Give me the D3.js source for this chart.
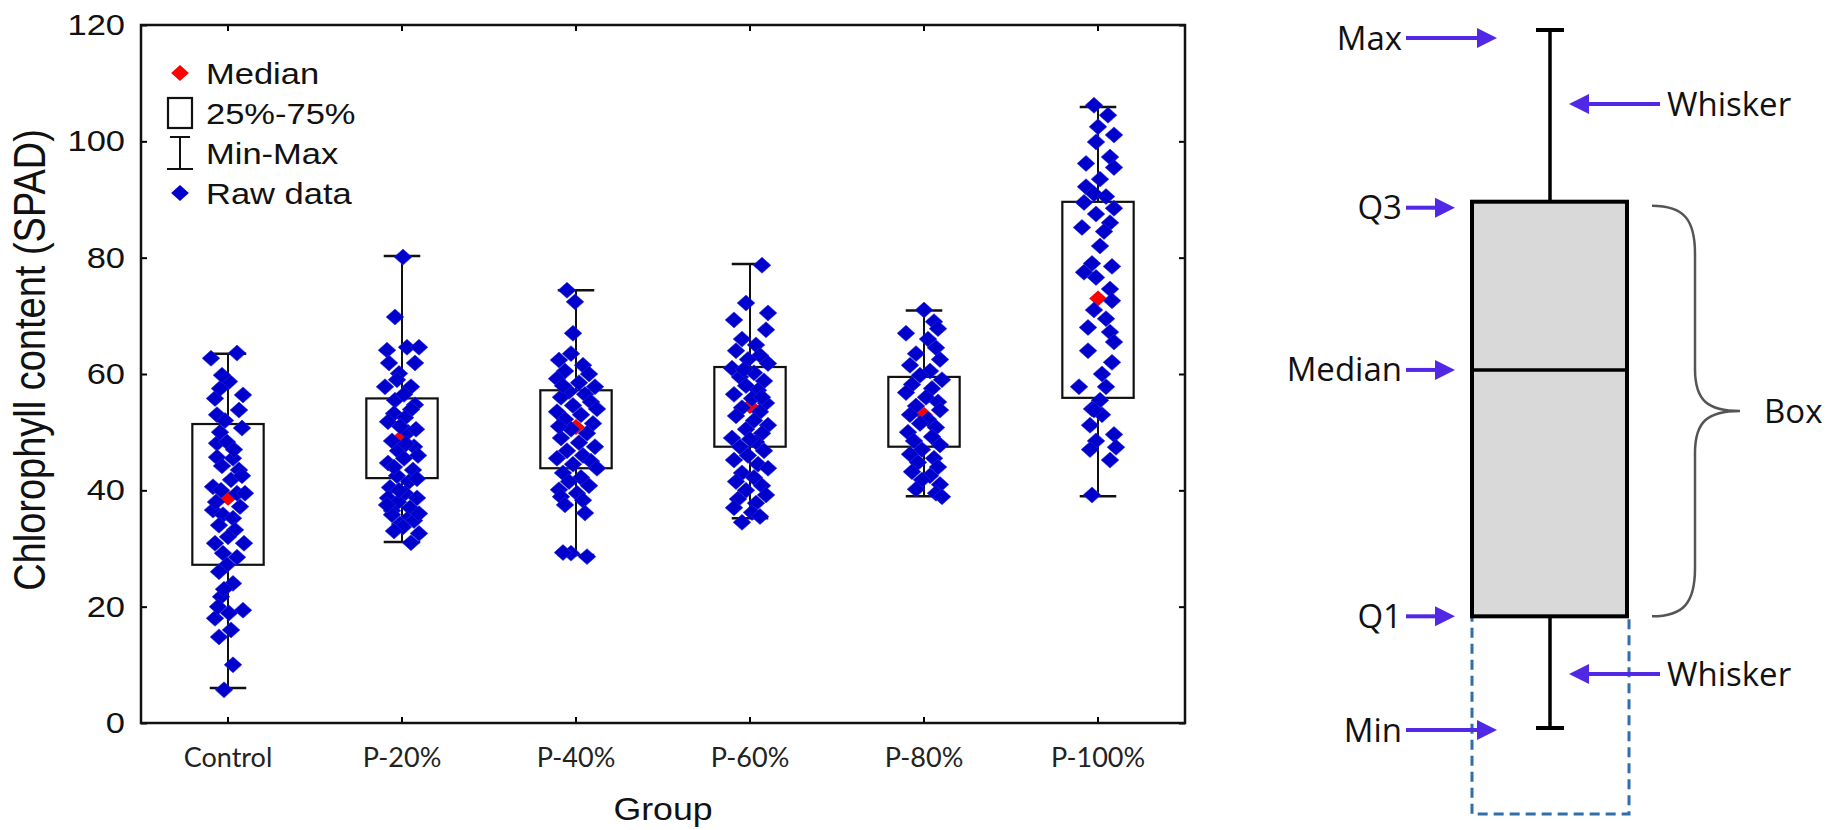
<!DOCTYPE html>
<html>
<head>
<meta charset="utf-8">
<script src="https://cdn.jsdelivr.net/npm/d3@7"></script>
<style>
  html, body { margin: 0; padding: 0; background: #ffffff; }
  svg { display: block; }
</style>
</head>
<body>
<svg id="chart" width="1839" height="830"></svg>
<script>
// ---------------- DATA ----------------
const categories = ["Control", "P-20%", "P-40%", "P-60%", "P-80%", "P-100%"];
const yTickValues = [0, 20, 40, 60, 80, 100, 120];

const mins    = [6.0, 31.1, 28.9, 35.2, 39.0, 39.0];
const q1s     = [27.2, 42.1, 43.8, 47.5, 47.5, 55.9];
const medians = [38.7, 49.2, 50.9, 54.5, 53.0, 73.0];
const q3s     = [51.4, 55.8, 57.2, 61.2, 59.5, 89.6];
const maxs    = [63.5, 80.3, 74.4, 78.9, 70.9, 105.9];

// raw data values per group
const rawControl = [62.7, 63.6, 58.7, 55.8, 56.4, 53.0, 53.8, 50.7, 48.1, 48.3, 45.7, 45.5, 43.5, 40.6, 40.0, 39.5, 39.5, 36.6, 35.8, 35.2, 33.2, 30.9, 30.9, 29.2, 27.2, 24.0, 21.7, 19.4, 18.0, 18.9, 14.8, 10.0, 5.7, 57.5, 52.0, 47.0, 44.2, 41.8, 38.0, 37.2, 34.0, 32.0, 28.5, 26.0, 23.0, 20.0, 16.0, 59.8, 50.0, 42.5];
const rawP20 = [80.1, 69.8, 64.1, 64.6, 64.6, 61.9, 61.9, 60.1, 57.8, 57.8, 55.5, 54.7, 53.9, 53.2, 51.8, 50.0, 48.5, 47.5, 46.8, 46.0, 44.7, 43.5, 42.5, 41.5, 40.5, 39.5, 38.7, 38.7, 38.0, 37.0, 36.5, 35.8, 35.0, 34.2, 33.7, 33.0, 32.6, 31.0, 56.5, 59.0, 52.5, 51.0, 45.5, 42.0, 40.0, 48.0, 50.5, 44.0, 37.5, 34.8, 36.0];
const rawP40 = [74.4, 72.4, 67.0, 62.4, 61.5, 60.5, 60.0, 59.2, 58.5, 57.8, 57.0, 56.5, 56.0, 55.2, 54.6, 54.0, 53.5, 53.0, 52.2, 51.5, 50.5, 49.8, 49.0, 48.2, 47.5, 46.8, 46.0, 45.5, 45.0, 44.5, 43.8, 43.0, 42.2, 41.5, 40.8, 40.1, 39.5, 38.9, 38.3, 37.5, 36.1, 29.2, 28.6, 29.3, 63.5, 58.0, 51.0];
const rawP60 = [78.7, 72.2, 69.3, 70.5, 67.6, 66.0, 65.0, 64.0, 63.2, 62.5, 61.8, 61.0, 60.2, 59.5, 58.8, 58.0, 57.2, 56.5, 55.8, 55.0, 54.2, 53.5, 52.8, 52.0, 51.2, 50.5, 49.8, 49.0, 48.3, 47.5, 46.8, 46.0, 45.2, 44.5, 43.8, 43.0, 42.2, 41.5, 40.8, 40.0, 39.2, 38.5, 37.8, 37.0, 36.2, 35.5, 34.5, 60.8, 56.0, 48.8];
const rawP80 = [71.0, 69.0, 67.8, 67.0, 66.0, 64.5, 63.5, 62.5, 61.5, 60.5, 59.8, 59.0, 58.2, 57.5, 56.8, 56.0, 55.2, 54.5, 53.8, 53.0, 52.2, 51.5, 50.8, 50.0, 49.2, 48.5, 47.8, 47.0, 46.2, 45.5, 44.8, 44.0, 43.2, 42.5, 41.8, 41.0, 40.2, 39.5, 38.9];
const rawP100 = [106.2, 104.5, 101.1, 99.9, 97.3, 96.2, 95.5, 92.2, 91.0, 90.5, 89.5, 88.5, 87.5, 86.0, 85.2, 84.5, 79.0, 77.5, 78.5, 76.6, 74.6, 72.6, 71.0, 69.5, 67.2, 65.5, 64.0, 62.0, 57.8, 57.8, 55.5, 54.0, 53.0, 53.8, 51.2, 49.6, 48.5, 47.4, 47.0, 45.2, 39.2, 60.0, 68.0, 82.0, 93.5, 102.5];

// horizontal jitter of each raw point (units of 1/174 of a category band)
const jitControl = [-17, 9, 1, -13, 15, -11, 11, 14, -11, -1, -11, 5, 11, -15, -7, 9, 17, -15, -5, 5, 7, -13, 16, -5, -1, 5, -7, 15, -13, 1, -9, 5, -4, -8, -3, 6, -6, 3, -12, 12, -9, 0, 9, -9, -4, -10, 3, -6, -8, 14];
const jitP20 = [1, -7, -15, 5, 17, 13, -13, -3, -17, 9, -7, 13, 9, -8, -14, 6, -10, 12, -4, 16, -14, 11, -5, 7, -12, 3, -14, 15, -4, 8, -10, -10, 5, -2, 1, -8, 17, 9, 2, -5, 3, -2, 2, 15, -3, 4, 14, -8, -15, 12, 17];
const jitP40 = [-9, -1, -3, -17, 7, -11, 13, -19, 3, 19, -7, 9, -15, 15, -3, 21, -19, 5, -11, 17, -5, 11, -15, 3, 19, -9, 7, -19, 15, -3, 21, -13, 5, -7, 13, -17, 1, -15, 7, -11, 9, -5, 11, -13, -5, -13, -17];
const jitP60 = [12, -4, -16, 18, 16, -8, 6, -14, 10, -2, 18, -18, 4, -10, 14, -4, 8, -16, 2, 16, -8, 10, -14, 4, 18, -4, 12, -18, 6, -10, 14, -2, -16, 8, 18, -8, 4, -14, 12, -4, 16, -12, 6, -16, 2, 10, -8, -6, 12, 0];
const jitP80 = [0, 10, 14, -18, 4, 12, -8, 16, -14, 6, -4, 18, -12, 8, -18, 2, 14, -8, 16, -14, 4, -4, 12, -16, 8, -10, 16, -2, -14, 10, -6, 14, -12, 6, -2, 16, -8, 12, 18];
const jitP100 = [-4, 10, 16, -2, 12, -12, 16, -12, -4, 8, -14, 16, -2, 12, -16, 6, -6, -14, 14, -2, 12, 14, -4, 8, 12, 16, -10, 14, -19, 8, 2, -6, 4, -4, -8, 16, -2, 18, -8, 12, -6, 4, -10, 2, 2, 0];

const rawGroups = [rawControl, rawP20, rawP40, rawP60, rawP80, rawP100];
const jitGroups = [jitControl, jitP20, jitP40, jitP60, jitP80, jitP100];

const legendLabels = ["Median", "25%-75%", "Min-Max", "Raw data"];

// schematic box plot (right panel)
const schemLabels = ["Max", "Q3", "Median", "Q1", "Min"];
const schemValues = [100, 75.4, 51.3, 16.0, 0];

// ---------------- DRAW ----------------
const svg = d3.select("#chart");
const W = 1839, H = 830;
svg.append("rect").attr("width", W).attr("height", H).attr("fill", "#fff");

const plot = { left: 141, right: 1185, top: 25, bottom: 723 };
const x = d3.scaleBand().domain(categories).range([plot.left, plot.right]).padding(0);
const y = d3.scaleLinear().domain([0, 120]).range([plot.bottom, plot.top]);
const bw = x.bandwidth();
const cx = c => x(c) + bw / 2;
const jit = d3.scaleLinear().domain([-174, 174]).range([-bw, bw]);

const BLUE = "#0000cd", RED = "#ff0000";
const sansFont = "'Liberation Sans', Arial, sans-serif";
const SX = 1.15; // horizontal stretch of the left chart's lettering

// axes
const gLeft = svg.append("g").attr("transform", `translate(${plot.left},0)`)
  .call(d3.axisLeft(y).tickValues(yTickValues).tickSizeInner(-6).tickSizeOuter(0).tickPadding(16).tickFormat(d3.format("d")));
gLeft.select(".domain").remove();
gLeft.selectAll(".tick line").attr("stroke", "#000").attr("stroke-width", 2);
gLeft.selectAll(".tick text")
  .attr("font-family", sansFont).attr("font-size", 30).attr("fill", "#111")
  .attr("transform", function () { const tx = +d3.select(this).attr("x"); return `translate(${tx},0) scale(${SX},1) translate(${-tx},0)`; });

const gRight = svg.append("g").attr("transform", `translate(${plot.right},0)`)
  .call(d3.axisRight(y).tickValues(yTickValues).tickSizeInner(-6).tickSizeOuter(0).tickFormat(""));
gRight.select(".domain").remove();
gRight.selectAll(".tick line").attr("stroke", "#000").attr("stroke-width", 2);

const xAxisFn = d3.axisBottom(x).tickSizeInner(-6).tickSizeOuter(0).tickPadding(25);
const gBottom = svg.append("g").attr("transform", `translate(0,${plot.bottom})`).call(xAxisFn);
gBottom.select(".domain").remove();
gBottom.selectAll(".tick line").attr("stroke", "#000").attr("stroke-width", 2);
gBottom.selectAll(".tick text").attr("font-family", "Lato, 'Open Sans', sans-serif").attr("font-size", 27).attr("fill", "#222");

const gTop = svg.append("g").attr("transform", `translate(0,${plot.top})`)
  .call(d3.axisTop(x).tickSizeInner(-6).tickSizeOuter(0).tickFormat(""));
gTop.select(".domain").remove();
gTop.selectAll(".tick line").attr("stroke", "#000").attr("stroke-width", 2);

// frame
svg.append("rect")
  .attr("x", plot.left).attr("y", plot.top)
  .attr("width", plot.right - plot.left).attr("height", plot.bottom - plot.top)
  .attr("fill", "none").attr("stroke", "#111").attr("stroke-width", 2.5);

// axis titles
svg.append("text")
  .attr("transform", `translate(45,${(plot.top + plot.bottom) / 2 - 14}) scale(${SX},1) rotate(-90)`)
  .attr("text-anchor", "middle")
  .attr("font-family", sansFont).attr("font-size", 38).attr("fill", "#111")
  .text("Chlorophyll content (SPAD)");

svg.append("text")
  .attr("transform", `translate(${(plot.left + plot.right) / 2},820) scale(${SX},1)`)
  .attr("text-anchor", "middle")
  .attr("font-family", sansFont).attr("font-size", 31).attr("fill", "#111")
  .text("Group");

// boxes
const boxW = bw * 0.41, capW = bw * 0.21;
const stats = categories.map((c, i) => ({ c, min: mins[i], q1: q1s[i], med: medians[i], q3: q3s[i], max: maxs[i] }));
const gBox = svg.append("g");
gBox.selectAll("rect.box").data(stats).join("rect")
  .attr("x", d => cx(d.c) - boxW / 2).attr("y", d => y(d.q3))
  .attr("width", boxW).attr("height", d => y(d.q1) - y(d.q3))
  .attr("fill", "none").attr("stroke", "#111").attr("stroke-width", 2.2);
gBox.selectAll("line.wu").data(stats).join("line")
  .attr("x1", d => cx(d.c)).attr("x2", d => cx(d.c))
  .attr("y1", d => y(d.q3)).attr("y2", d => y(d.max))
  .attr("stroke", "#111").attr("stroke-width", 2);
gBox.selectAll("line.wl").data(stats).join("line")
  .attr("x1", d => cx(d.c)).attr("x2", d => cx(d.c))
  .attr("y1", d => y(d.q1)).attr("y2", d => y(d.min))
  .attr("stroke", "#111").attr("stroke-width", 2);
gBox.selectAll("line.cu").data(stats).join("line")
  .attr("x1", d => cx(d.c) - capW / 2).attr("x2", d => cx(d.c) + capW / 2)
  .attr("y1", d => y(d.max)).attr("y2", d => y(d.max))
  .attr("stroke", "#111").attr("stroke-width", 2.5);
gBox.selectAll("line.cl").data(stats).join("line")
  .attr("x1", d => cx(d.c) - capW / 2).attr("x2", d => cx(d.c) + capW / 2)
  .attr("y1", d => y(d.min)).attr("y2", d => y(d.min))
  .attr("stroke", "#111").attr("stroke-width", 2.5);

// diamond symbol
const diamond = d3.symbol().type(d3.symbolDiamond2).size(200)();

// medians (under raw data)
svg.append("g").selectAll("path").data(stats).join("path")
  .attr("d", diamond)
  .attr("transform", d => `translate(${cx(d.c)},${y(d.med)}) scale(1,0.9)`)
  .attr("fill", RED);

// raw points
const pts = [];
categories.forEach((c, i) => rawGroups[i].forEach((v, k) => pts.push({ c, v, j: jitGroups[i][k] || 0 })));
svg.append("g").selectAll("path").data(pts).join("path")
  .attr("d", diamond)
  .attr("transform", d => `translate(${cx(d.c) + jit(d.j)},${y(d.v)}) scale(1,0.9)`)
  .attr("fill", BLUE)
  .attr("stroke", "#2a2ae0").attr("stroke-width", 0.6);

// legend
const lg = svg.append("g").attr("font-family", sansFont).attr("font-size", 30).attr("fill", "#111");
const rowY = d3.scalePoint().domain(legendLabels).range([73, 193]);
const iconX = 180;
lg.append("path").attr("d", diamond).attr("transform", `translate(${iconX},${rowY("Median")}) scale(1,0.9)`).attr("fill", RED);
lg.append("rect").attr("x", iconX - 12).attr("y", rowY("25%-75%") - 15).attr("width", 24).attr("height", 30)
  .attr("fill", "none").attr("stroke", "#111").attr("stroke-width", 2.2);
lg.append("line").attr("x1", iconX).attr("x2", iconX).attr("y1", rowY("Min-Max") - 16).attr("y2", rowY("Min-Max") + 16).attr("stroke", "#111").attr("stroke-width", 2);
lg.append("line").attr("x1", iconX - 10).attr("x2", iconX + 10).attr("y1", rowY("Min-Max") - 16).attr("y2", rowY("Min-Max") - 16).attr("stroke", "#111").attr("stroke-width", 2);
lg.append("line").attr("x1", iconX - 13).attr("x2", iconX + 13).attr("y1", rowY("Min-Max") + 16).attr("y2", rowY("Min-Max") + 16).attr("stroke", "#111").attr("stroke-width", 2);
lg.append("path").attr("d", diamond).attr("transform", `translate(${iconX},${rowY("Raw data")}) scale(1,0.9)`).attr("fill", BLUE);
lg.selectAll("text").data(legendLabels).join("text")
  .attr("transform", d => `translate(206,${rowY(d)}) scale(${SX},1)`)
  .attr("dy", "0.36em").text(d => d);

// ---------------- SCHEMATIC ----------------
const ys = d3.scaleLinear().domain([0, 100]).range([728, 30]);
const sx = 1550, sBoxL = 1472, sBoxR = 1627, sCap = 14;
const ARROW = "#5028e6";
const sg = svg.append("g");
const sv = {};
schemLabels.forEach((l, i) => sv[l] = schemValues[i]);

// dashed box
sg.append("rect").attr("x", sBoxL).attr("y", ys(sv.Q1)).attr("width", sBoxR - sBoxL + 2).attr("height", 814 - ys(sv.Q1))
  .attr("fill", "none").attr("stroke", "#2f6ea8").attr("stroke-width", 3).attr("stroke-dasharray", "10,6");
// whiskers
sg.append("line").attr("x1", sx).attr("x2", sx).attr("y1", ys(sv.Max)).attr("y2", ys(sv.Q3)).attr("stroke", "#000").attr("stroke-width", 3.5);
sg.append("line").attr("x1", sx).attr("x2", sx).attr("y1", ys(sv.Q1)).attr("y2", ys(sv.Min)).attr("stroke", "#000").attr("stroke-width", 3.5);
sg.append("line").attr("x1", sx - sCap).attr("x2", sx + sCap).attr("y1", ys(sv.Max)).attr("y2", ys(sv.Max)).attr("stroke", "#000").attr("stroke-width", 4);
sg.append("line").attr("x1", sx - sCap).attr("x2", sx + sCap).attr("y1", ys(sv.Min)).attr("y2", ys(sv.Min)).attr("stroke", "#000").attr("stroke-width", 4);
// box
sg.append("rect").attr("x", sBoxL).attr("y", ys(sv.Q3)).attr("width", sBoxR - sBoxL).attr("height", ys(sv.Q1) - ys(sv.Q3))
  .attr("fill", "#d9d9d9").attr("stroke", "#000").attr("stroke-width", 4);
sg.append("line").attr("x1", sBoxL).attr("x2", sBoxR).attr("y1", ys(sv.Median)).attr("y2", ys(sv.Median)).attr("stroke", "#000").attr("stroke-width", 3.5);

// bracket
const bt = ys(sv.Q3) + 4, bb = ys(sv.Q1), bm = (bt + bb) / 2;
sg.append("path")
  .attr("d", `M1652,${bt} C1684,${bt} 1695,${bt + 14} 1695,${bt + 48} L1695,${bm - 42} C1695,${bm - 10} 1708,${bm} 1740,${bm} C1708,${bm} 1695,${bm + 10} 1695,${bm + 42} L1695,${bb - 48} C1695,${bb - 14} 1684,${bb} 1652,${bb}`)
  .attr("fill", "none").attr("stroke", "#555").attr("stroke-width", 2.5);

const schemFont = "'Open Sans', 'Noto Sans', sans-serif";
function arrow(x1, x2, yy) {
  const dir = Math.sign(x2 - x1), head = 20;
  sg.append("line").attr("x1", x1).attr("x2", x2 - dir * head + dir * 2).attr("y1", yy).attr("y2", yy)
    .attr("stroke", ARROW).attr("stroke-width", 4);
  sg.append("path").attr("d", `M${x2},${yy} L${x2 - dir * head},${yy - 10} L${x2 - dir * head},${yy + 10} Z`).attr("fill", ARROW);
}
const labelTip = { Max: 1497, Q3: 1455, Median: 1455, Q1: 1455, Min: 1497 };
const labelDy = { Max: 8, Q3: 6, Median: 0, Q1: 0, Min: 2 };
schemLabels.forEach(l => {
  const yy = ys(sv[l]) + labelDy[l];
  sg.append("text").attr("x", 1402).attr("y", yy).attr("dy", "0.35em").attr("text-anchor", "end")
    .attr("font-family", schemFont).attr("font-size", 33).attr("fill", "#111").text(l);
  arrow(1406, labelTip[l], yy);
});
// whisker call-outs
[[ys(sv.Max) + 74], [ys(sv.Min) - 54]].forEach(([yy]) => {
  arrow(1660, 1569, yy);
  sg.append("text").attr("x", 1667).attr("y", yy).attr("dy", "0.35em")
    .attr("font-family", schemFont).attr("font-size", 33).attr("fill", "#111").text("Whisker");
});
sg.append("text").attr("x", 1764).attr("y", bm).attr("dy", "0.35em")
  .attr("font-family", schemFont).attr("font-size", 33).attr("fill", "#111").text("Box");
</script>
</body>
</html>
